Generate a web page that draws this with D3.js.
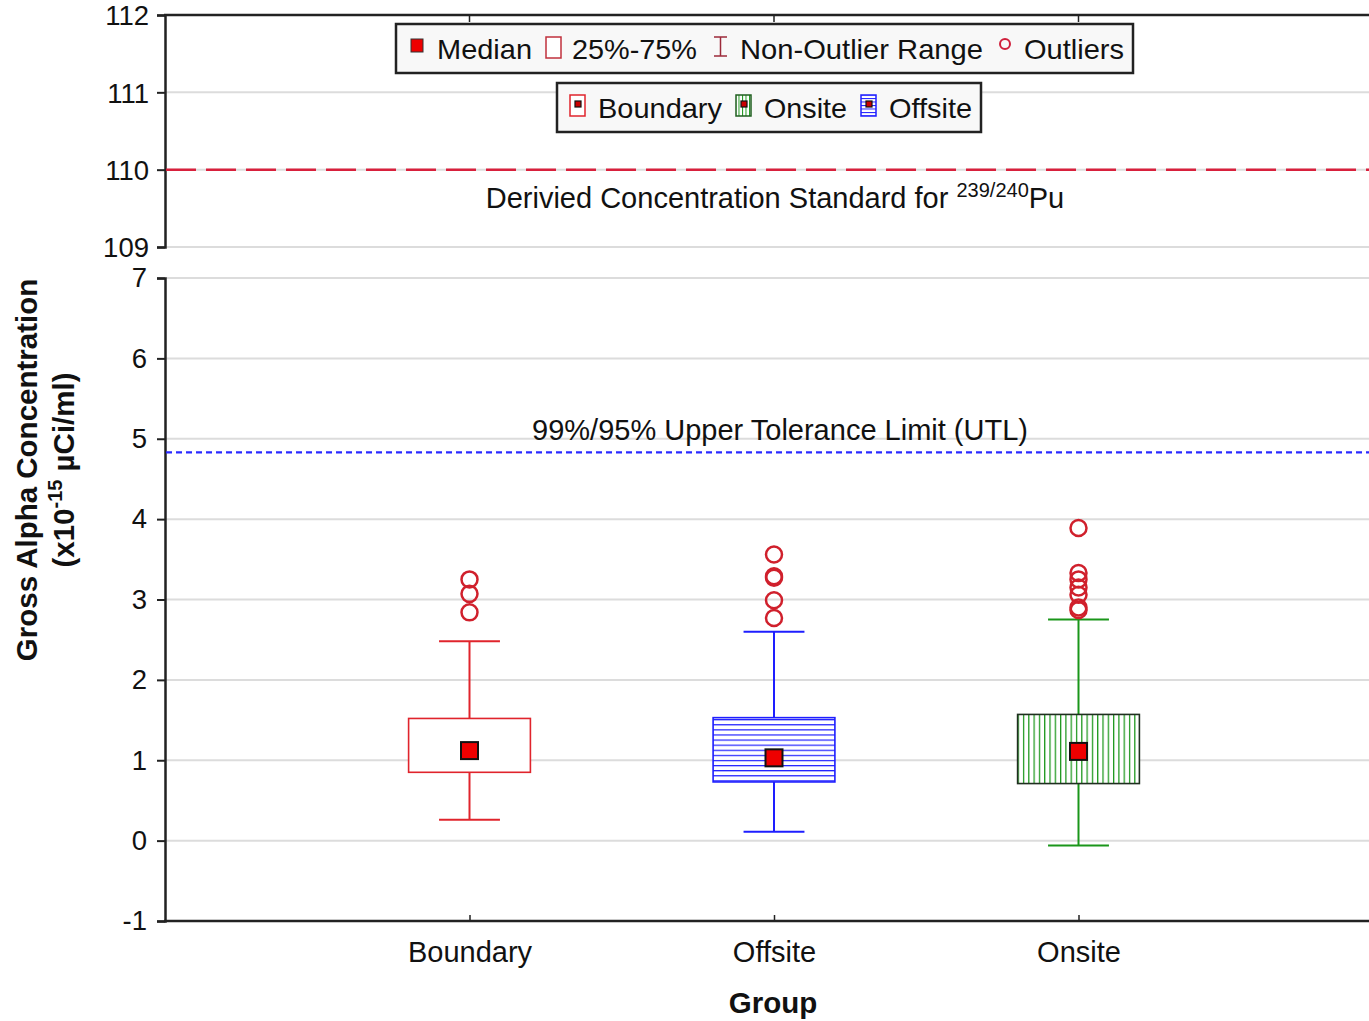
<!DOCTYPE html>
<html><head><meta charset="utf-8">
<script src="https://cdn.jsdelivr.net/npm/d3@7"></script>
<style>
html,body{margin:0;padding:0;background:#fff;}
svg{display:block;font-family:"Liberation Sans",Arial,sans-serif;}
</style></head>
<body><svg id="c" width="1369" height="1021"></svg>
<script>
const categories = ["Boundary","Offsite","Onsite"];
const whiskerLow  = [0.26, 0.11, -0.06];
const q1          = [0.85, 0.73, 0.71];
const median      = [1.12, 1.03, 1.11];
const q3          = [1.52, 1.53, 1.57];
const whiskerHigh = [2.48, 2.60, 2.75];
const outliers = [
  [2.84, 3.07, 3.25],
  [2.77, 2.99, 3.27, 3.29, 3.56],
  [2.87, 2.90, 3.06, 3.15, 3.25, 3.33, 3.89]
];
const topTicks = [109,110,111,112];
const botTicks = [-1,0,1,2,3,4,5,6,7];
const dcsValue = 110;
const utlValue = 4.83;

const svg = d3.select("#c");
const x = d3.scaleLinear().domain([0,4]).range([165,1383]);
const yTop = d3.scaleLinear().domain([109,112]).range([247,15]);
const yBot = d3.scaleLinear().domain([-1,7]).range([921,278]);
const xR = 1369;
const col = {Boundary:"#e0242c", Offsite:"#1e1eff", Onsite:"#1a961a"};
const outlierCol = "#d0202c";

const defs = svg.append("defs");
const ph = defs.append("pattern").attr("id","hlines").attr("patternUnits","userSpaceOnUse")
  .attr("width",10).attr("height",5.1);
ph.append("rect").attr("width",10).attr("height",5.1).attr("fill","#fff");
ph.append("line").attr("x1",0).attr("x2",10).attr("y1",0.6).attr("y2",0.6).attr("stroke",col.Offsite).attr("stroke-width",1.2);
const pv = defs.append("pattern").attr("id","vlines").attr("patternUnits","userSpaceOnUse")
  .attr("width",5.3).attr("height",10);
pv.append("rect").attr("width",5.3).attr("height",10).attr("fill","#fff");
pv.append("line").attr("y1",0).attr("y2",10).attr("x1",0.6).attr("x2",0.6).attr("stroke",col.Onsite).attr("stroke-width",1.3);
const phs = defs.append("pattern").attr("id","hlinesS").attr("patternUnits","userSpaceOnUse").attr("width",4).attr("height",3.5);
phs.append("rect").attr("width",4).attr("height",3.5).attr("fill","#fff");
phs.append("line").attr("x1",0).attr("x2",4).attr("y1",0.5).attr("y2",0.5).attr("stroke",col.Offsite).attr("stroke-width",1);
const pvs = defs.append("pattern").attr("id","vlinesS").attr("patternUnits","userSpaceOnUse").attr("width",3.5).attr("height",4);
pvs.append("rect").attr("width",3.5).attr("height",4).attr("fill","#fff");
pvs.append("line").attr("y1",0).attr("y2",4).attr("x1",0.5).attr("x2",0.5).attr("stroke",col.Onsite).attr("stroke-width",1);

// gridlines
svg.append("g").selectAll("line").data(topTicks.filter(d=>d!==112)).join("line")
  .attr("x1",166).attr("x2",xR).attr("y1",d=>yTop(d)).attr("y2",d=>yTop(d))
  .attr("stroke","#dcdcdc").attr("stroke-width",2);
svg.append("g").selectAll("line").data(botTicks.filter(d=>d!==-1)).join("line")
  .attr("x1",166).attr("x2",xR).attr("y1",d=>yBot(d)).attr("y2",d=>yBot(d))
  .attr("stroke","#dcdcdc").attr("stroke-width",2);

// top border
svg.append("line").attr("x1",164).attr("x2",xR).attr("y1",yTop(112)).attr("y2",yTop(112)).attr("stroke","#222").attr("stroke-width",2.5);
svg.append("g").selectAll("line").data(categories).join("line")
  .attr("x1",(d,i)=>x(i+1)).attr("x2",(d,i)=>x(i+1)).attr("y1",yTop(112)).attr("y2",yTop(112)+7)
  .attr("stroke","#222").attr("stroke-width",1.5);

// axes
const axTop = svg.append("g").attr("transform","translate(165,0)")
  .call(d3.axisLeft(yTop).tickValues(topTicks).tickFormat(d3.format("d")).tickSize(8).tickPadding(8));
const axBot = svg.append("g").attr("transform","translate(165,0)")
  .call(d3.axisLeft(yBot).tickValues(botTicks).tickFormat(d=>d<0?"-"+Math.abs(d):d).tickSize(8).tickPadding(10));
[axTop,axBot].forEach(a=>{
  a.select(".domain").attr("stroke","#222").attr("stroke-width",2.5);
  a.selectAll(".tick line").attr("stroke","#222").attr("stroke-width",2);
  a.selectAll(".tick text").attr("font-size",27.5).attr("fill","#111").attr("font-family","Liberation Sans, Arial, sans-serif");
});
axTop.selectAll(".tick text").attr("dy","0.36em");

// bottom x axis
const axX = svg.append("g").attr("transform",`translate(0,${yBot(-1)})`)
  .call(d3.axisBottom(x).tickValues([1,2,3]).tickFormat(d=>categories[d-1]).tickSize(-6).tickPadding(20).tickSizeOuter(0));
axX.select(".domain").attr("d",`M164,0H${xR}`).attr("stroke","#222").attr("stroke-width",2.5);
axX.selectAll(".tick line").attr("stroke","#222").attr("stroke-width",1.5);
axX.selectAll(".tick text").attr("font-size",29).attr("fill","#111").attr("font-family","Liberation Sans, Arial, sans-serif");

// DCS line
svg.append("line").attr("x1",166).attr("x2",xR).attr("y1",yTop(dcsValue)).attr("y2",yTop(dcsValue))
  .attr("stroke","#d8203c").attr("stroke-width",2.5).attr("stroke-dasharray","30,10");
const dcsT = svg.append("text").attr("x",775).attr("y",yTop(dcsValue)+38).attr("text-anchor","middle")
  .attr("font-size",29).attr("fill","#111");
dcsT.append("tspan").text("Derivied Concentration Standard for ");
dcsT.append("tspan").attr("font-size",20).attr("dy",-11).text("239/240");
dcsT.append("tspan").attr("dy",11).text("Pu");

// UTL line
svg.append("line").attr("x1",166).attr("x2",xR).attr("y1",yBot(utlValue)).attr("y2",yBot(utlValue))
  .attr("stroke","#2a2aff").attr("stroke-width",2.2).attr("stroke-dasharray","6,4");
svg.append("text").attr("x",780).attr("y",yBot(utlValue)-12).attr("text-anchor","middle")
  .attr("font-size",29).attr("fill","#111").text("99%/95% Upper Tolerance Limit (UTL)");

// boxes
const boxW = 0.4, capW = 0.2;
const g = svg.append("g");
categories.forEach((c,i)=>{
  const cx = x(i+1);
  const hw = (x(boxW)-x(0))/2, cw = (x(capW)-x(0))/2;
  const cc = col[c];
  g.append("line").attr("x1",cx).attr("x2",cx).attr("y1",yBot(q3[i])).attr("y2",yBot(whiskerHigh[i])).attr("stroke",cc).attr("stroke-width",2);
  g.append("line").attr("x1",cx).attr("x2",cx).attr("y1",yBot(q1[i])).attr("y2",yBot(whiskerLow[i])).attr("stroke",cc).attr("stroke-width",2);
  g.append("line").attr("x1",cx-cw).attr("x2",cx+cw).attr("y1",yBot(whiskerHigh[i])).attr("y2",yBot(whiskerHigh[i])).attr("stroke",cc).attr("stroke-width",2);
  g.append("line").attr("x1",cx-cw).attr("x2",cx+cw).attr("y1",yBot(whiskerLow[i])).attr("y2",yBot(whiskerLow[i])).attr("stroke",cc).attr("stroke-width",2);
  const fill = c==="Offsite" ? "url(#hlines)" : c==="Onsite" ? "url(#vlines)" : "#fff";
  const stroke = c==="Onsite" ? "#1f2f1f" : cc;
  g.append("rect").attr("x",cx-hw).attr("width",2*hw).attr("y",yBot(q3[i])).attr("height",yBot(q1[i])-yBot(q3[i]))
    .attr("fill",fill).attr("stroke",stroke).attr("stroke-width",1.6);
  g.append("rect").attr("x",cx-8.5).attr("y",yBot(median[i])-8.5).attr("width",17).attr("height",17)
    .attr("fill","#ee0000").attr("stroke","#111").attr("stroke-width",2);
  g.selectAll(null).data(outliers[i]).join("circle")
    .attr("cx",cx).attr("cy",d=>yBot(d)).attr("r",8).attr("fill","none")
    .attr("stroke",outlierCol).attr("stroke-width",2.5);
});

// Legend 1
const L1 = svg.append("g");
L1.append("rect").attr("x",396).attr("y",24).attr("width",737).attr("height",49).attr("fill","#f8f8f8").attr("stroke","#222").attr("stroke-width",2.5);
L1.append("rect").attr("x",411).attr("y",39).attr("width",12).attr("height",13).attr("fill","#ee0000").attr("stroke","#333").attr("stroke-width",1);
L1.append("rect").attr("x",546).attr("y",37).attr("width",15).attr("height",21).attr("fill","#fff").attr("stroke","#c0303c").attr("stroke-width",1.5);
L1.append("path").attr("d","M714,37H727M720.5,37V56M714,56H727").attr("stroke","#9c2a3a").attr("stroke-width",1.5).attr("fill","none");
L1.append("circle").attr("cx",1005).attr("cy",44).attr("r",5).attr("fill","none").attr("stroke","#d0203c").attr("stroke-width",2);
const l1t = [["Median",437],["25%-75%",572],["Non-Outlier Range",740],["Outliers",1024]];
L1.selectAll("text").data(l1t).join("text").attr("x",d=>d[1]).attr("y",59).attr("font-size",28).attr("fill","#111")
  .attr("textLength",(d,i)=>[95,125,243,100][i]).attr("lengthAdjust","spacingAndGlyphs").text(d=>d[0]);

// Legend 2
const L2 = svg.append("g");
L2.append("rect").attr("x",557).attr("y",83).attr("width",424).attr("height",49).attr("fill","#f8f8f8").attr("stroke","#222").attr("stroke-width",2.5);
const glyphs = [["Boundary",570,"#fff",col.Boundary],["Onsite",736,"url(#vlinesS)","#1f5f1f"],["Offsite",861,"url(#hlinesS)",col.Offsite]];
glyphs.forEach(gl=>{
  L2.append("rect").attr("x",gl[1]).attr("y",95).attr("width",15).attr("height",21).attr("fill",gl[2]).attr("stroke",gl[3]).attr("stroke-width",1.5);
  L2.append("rect").attr("x",gl[1]+5).attr("y",101).attr("width",6).attr("height",6).attr("fill","#cc0000").attr("stroke","#111").attr("stroke-width",1.2);
});
const l2t = [["Boundary",598,124],["Onsite",764,83],["Offsite",889,83]];
L2.selectAll("text").data(l2t).join("text").attr("x",d=>d[1]).attr("y",118).attr("font-size",28).attr("fill","#111")
  .attr("textLength",d=>d[2]).attr("lengthAdjust","spacingAndGlyphs").text(d=>d[0]);

// Axis titles
svg.append("text").attr("x",773).attr("y",1013).attr("text-anchor","middle").attr("font-size",29.5).attr("font-weight","bold").attr("fill","#111").text("Group");
const yt = svg.append("g").attr("transform","translate(37,470) rotate(-90)");
yt.append("text").attr("text-anchor","middle").attr("font-size",29.5).attr("font-weight","bold").attr("fill","#111").text("Gross Alpha Concentration");
const yt2 = yt.append("text").attr("y",37).attr("text-anchor","middle").attr("font-size",29.5).attr("font-weight","bold").attr("fill","#111");
yt2.append("tspan").text("(x10");
yt2.append("tspan").attr("font-size",20).attr("dy",-12).text("-15");
yt2.append("tspan").attr("dy",12).text(" \u00b5Ci/ml)");
</script></body></html>
